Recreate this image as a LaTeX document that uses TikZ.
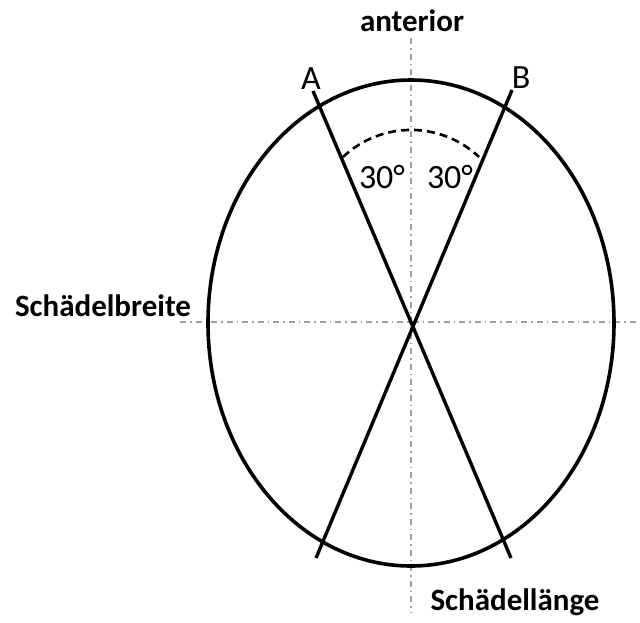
\documentclass[tikz,border=0pt]{standalone}
\usepackage{fontspec}
\setmainfont{Carlito}
\usetikzlibrary{shapes.geometric}
\begin{document}
\begin{tikzpicture}[x=1pt,y=-1pt,
  thick line/.style={line width=3.4pt,black},
  axisline/.style={line width=1.6pt,gray!75,dash pattern=on 6pt off 4pt on 1.5pt off 4pt},
  arcline/.style={line width=2.6pt,black,dash pattern=on 8pt off 5pt},
  biglbl/.style={font=\fontsize{34}{36}\selectfont,inner sep=0pt},
  boldlbl/.style={font=\fontsize{31}{34}\selectfont\bfseries,inner sep=0pt}]
\useasboundingbox (0,0) rectangle (640,622);
% axes
\coordinate (vtop) at (411,38);
\coordinate (vbot) at (411,612);
\coordinate (hleft) at (180,322);
\coordinate (hright) at (638,322);
\draw[axisline] (vtop) -- (vbot);
\draw[axisline] (hleft) -- (hright);
% ellipse
\node[draw,line width=3.6pt,ellipse,minimum width=406pt,minimum height=486pt,inner sep=0pt] (skull) at (411,323) {};
% lines
\coordinate (Atop) at (313,91);
\coordinate (Abot) at (511,558);
\coordinate (Btop) at (512,90);
\coordinate (Bbot) at (316,558);
\draw[thick line] (Atop) -- (Abot);
\draw[thick line] (Btop) -- (Bbot);
% arc
\coordinate (arcstart) at (343,157);
\draw[arcline] (arcstart) arc[start angle=-133.4,end angle=-46.6,radius=99];
% labels
\node[biglbl] (A) at (311,79) {A};
\node[biglbl] (B) at (521,78) {B};
\node[biglbl] (a1) at (382,177) {30°};
\node[biglbl] (a2) at (450,177) {30°};
\node[boldlbl] (ant) at (412,21) {anterior};
\node[boldlbl] (breite) at (103,306) {Schädelbreite};
\node[boldlbl] (laenge) at (515,602) {Schädellänge};
\end{tikzpicture}
\end{document}
